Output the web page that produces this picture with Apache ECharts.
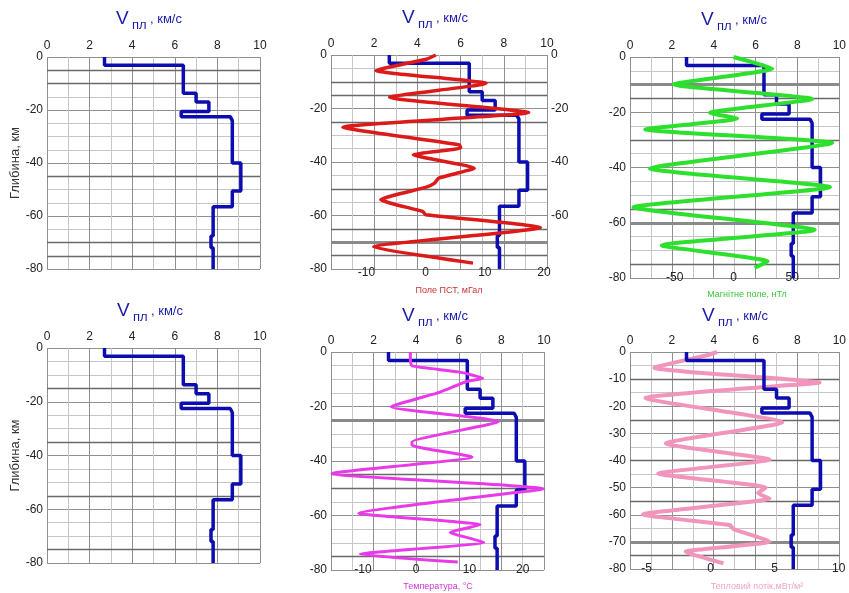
<!DOCTYPE html>
<html><head><meta charset="utf-8">
<script src="https://cdn.jsdelivr.net/npm/echarts@6/dist/echarts.min.js"></script>
<style>html,body{margin:0;padding:0;background:#fff}#c{width:849px;height:593px}</style>
</head><body><div id="c"></div>
<script>
// ---- data ----
const velocityDepth  = [0, -3.1, -3.1, -13.7, -13.7, -17, -17, -20.6, -20.6, -22.5, -22.5, -24, -40, -40, -50.6, -50.6, -56.5, -56.5, -67.5, -67.5, -72, -72, -80];
const velocityValues = [2.7, 2.7, 6.4, 6.4, 7.0, 7.0, 7.6, 7.6, 6.3, 6.3, 8.6, 8.7, 8.7, 9.1, 9.1, 8.7, 8.7, 7.8, 7.8, 7.7, 7.7, 7.8, 7.8];

const gravityDepth  = [0, -1.6, -5.8, -10.6, -15.8, -21.5, -27, -33.6, -34.8, -37.3, -42.3, -46, -47.9, -49.4, -54.1, -58.5, -59.7, -64.5, -71.8, -77.8];
const gravityValues = [1.7, 0.1, -8.4, 10.2, -6.1, 17.4, -14.0, 5.7, 5.9, -2.1, 8.2, 2.2, 1.5, 0.1, -7.6, -0.5, 0.0, 19.4, -8.8, 8.0];

const magneticDepth  = [0, -4.2, -9.9, -15.2, -20.2, -22.3, -26.2, -31.1, -40.4, -47.1, -54.4, -62.6, -68.2, -74.0, -76.3];
const magneticValues = [0, 33, -51, 67, -20, 3, -75, 84, -71, 82, -85, 69, -61, 29, 18];

const temperatureDepth  = [0, -3, -5.1, -7.3, -9.6, -11, -14.7, -20.1, -25.5, -33, -34.2, -38.5, -44.6, -50.2, -53.5, -59.2, -63.4, -66.2, -69.8, -74.2, -77.1];
const temperatureValues = [-1.1, -1.1, -0.8, 7.9, 12.5, 9.2, 4.5, -4.7, 15.5, -0.8, -0.8, 10.5, -15.8, 23.9, 10.4, -10.8, 12.0, 6.4, 12.7, -10.5, 7.8];

const heatFlowDepth  = [0, -1.2, -5.8, -11.3, -12.5, -17, -25.9, -33.7, -39.7, -44.8, -50, -52, -54, -59.9, -63.8, -65.3, -69.9, -73.6, -74.8, -77.9];
const heatFlowValues = [0.5, -0.3, -4.4, 8.5, 5.3, -5.1, 5.6, -3.5, 4.6, -4.1, 4.3, 3.7, 4.6, -5.3, 1.5, 1.8, 4.6, -1.95, -1.3, 1.0];

const velocityTicks = [0, 2, 4, 6, 8, 10];
const gravityTicks = [-10, 0, 10, 20];
const magneticTicks = [-50, 0, 50];
const temperatureTicks = [-10, 0, 10, 20];
const heatFlowTicks = [-5, 0, 5, 10];
const rightDepthTicks = [0, -20, -40, -60];

// layer boundary lines (depth, km) per panel
const boundaries1 = [-5, -10, -45, -70, -75];
const boundaries2 = [-10, -15, -25, -50, -65, -75];
const thick2 = [-70];
const boundaries3 = [-15, -30, -55, -75];
const thick3 = [-10, -60];
const boundaries4 = [-15, -35, -55, -75];
const boundaries5 = [-45, -50, -75];
const thick5 = [-25];
const boundaries6 = [-10, -25, -40, -55, -75];
const thick6 = [-70];

const titleText = 'V';
const titleSub = 'пл';
const titleUnit = ', км/с';
const depthName = 'Глибина, км';
const gravityName = 'Поле ПСТ, мГал';
const magneticName = 'Магнітне поле, нТл';
const temperatureName = 'Температура, °С';
const heatFlowName = 'Тепловий потік,мВт/м²';

// ---- build ----
const zip = (xs, ys) => xs.map((x, i) => [x, ys[i]]);
const FONT = 'Liberation Sans, Arial, sans-serif';
const grids = [
  {left: 47, top: 57, width: 213, height: 212},
  {left: 331, top: 55, width: 216, height: 214},
  {left: 630, top: 57, width: 215, height: 221},
  {left: 47, top: 348, width: 213, height: 215},
  {left: 331, top: 352, width: 213, height: 218},
  {left: 630, top: 352, width: 215, height: 217}
];
const majorLine = {show: true, lineStyle: {color: '#8f8f8f', width: 1}};
const minorLine = {show: true, lineStyle: {color: '#c6c6c6', width: 1}};
const lbl = {color: '#222', fontSize: 12, fontFamily: FONT};

const xAxes = [], yAxes = [];
grids.forEach((g, i) => {
  xAxes.push({type: 'value', gridIndex: i, position: 'top', min: 0, max: 10, interval: 2,
    axisLine: {show: false}, axisTick: {show: false},
    axisLabel: Object.assign({margin: 5, customValues: velocityTicks}, lbl),
    splitLine: majorLine, minorTick: {show: false, splitNumber: 2}, minorSplitLine: minorLine});
  const step = i === 5 ? 10 : 20;
  yAxes.push({type: 'value', gridIndex: i, position: 'left', min: -80, max: 0, interval: step,
    name: (i === 0 || i === 3) ? depthName : '', nameLocation: 'middle', nameRotate: 90, nameGap: 23,
    nameTextStyle: {color: '#333', fontSize: 13, fontFamily: FONT},
    axisLine: {show: false}, axisTick: {show: false},
    axisLabel: Object.assign({margin: 4}, lbl),
    splitLine: majorLine, minorTick: {show: false, splitNumber: step === 20 ? 4 : 2}, minorSplitLine: minorLine});
});
function secX(grid, min, max, ticks, margin) {
  return {type: 'value', gridIndex: grid, position: 'bottom', min: min, max: max,
    axisLine: {show: false}, axisTick: {show: false}, splitLine: {show: false},
    axisLabel: Object.assign({margin: margin, customValues: ticks}, lbl)};
}
xAxes.push(secX(1, -16, 20.5, gravityTicks, -2));        // 6
xAxes.push(secX(2, -88, 90, magneticTicks, -6));          // 7
xAxes.push(secX(4, -16, 24, temperatureTicks, -6));       // 8
xAxes.push(secX(5, -6.3, 10.05, heatFlowTicks, -6));      // 9
yAxes.push({type: 'value', gridIndex: 1, position: 'right', min: -80, max: 0,
  axisLine: {show: false}, axisTick: {show: false}, splitLine: {show: false},
  axisLabel: Object.assign({margin: 4, customValues: rightDepthTicks}, lbl)}); // 6

const allBounds = [[boundaries1, []], [boundaries2, thick2], [boundaries3, thick3],
                   [boundaries4, []], [boundaries5, thick5], [boundaries6, thick6]];
const series = [];
grids.forEach((g, i) => {
  const mlData = allBounds[i][0].map(d => ({yAxis: d, lineStyle: {color: '#6a6a6a', width: 1.3}}))
    .concat(allBounds[i][1].map(d => ({yAxis: d, lineStyle: {color: '#8a8a8a', width: 3}})));
  series.push({type: 'line', xAxisIndex: i, yAxisIndex: i, data: zip(velocityValues, velocityDepth),
    symbol: 'none', z: 3, lineStyle: {color: '#0c0cb0', width: 3.5}, animation: false,
    markLine: {silent: true, z: 1, symbol: ['none', 'none'], label: {show: false}, animation: false,
      lineStyle: {type: 'solid'}, data: mlData}});
});
function curve(xi, yi, xs, ys, color, width, z) {
  return {type: 'line', xAxisIndex: xi, yAxisIndex: yi, data: zip(xs, ys), symbol: 'none',
    smooth: 0.15, z: z, animation: false, lineStyle: {color: color, width: width}};
}
series.push(curve(6, 1, gravityValues, gravityDepth, '#dc1a1a', 3.5, 4));
series.push(curve(7, 2, magneticValues, magneticDepth, '#2ee02e', 4, 4));
series.push(curve(8, 4, temperatureValues, temperatureDepth, '#e83ae8', 3, 4));
series.push(curve(9, 5, heatFlowValues, heatFlowDepth, '#f295bc', 4, 2));

function title(x, y) {
  const c = '#1c1caa';
  return [
    {type: 'text', x: x, y: y, style: {text: titleText, fill: c, font: '19px ' + FONT}},
    {type: 'text', x: x + 16, y: y + 10, style: {text: titleSub, fill: c, font: '13px ' + FONT}},
    {type: 'text', x: x + 34, y: y + 4, style: {text: titleUnit, fill: c, font: '13px ' + FONT}}
  ];
}
function note(cx, y, text, color) {
  return {type: 'text', x: cx, y: y, style: {text: text, fill: color, font: '9px ' + FONT, textAlign: 'center', textVerticalAlign: 'middle'}};
}
const graphic = [].concat(
  title(116, 9), title(402, 8), title(701, 10),
  title(117, 301), title(402, 306), title(702, 306),
  [note(449, 291, gravityName, '#c83232'), note(747, 295, magneticName, '#36c836'),
   note(438, 587, temperatureName, '#d236d2'), note(757, 587, heatFlowName, '#f0a4c4')]
);

const chart = echarts.init(document.getElementById('c'), null, {renderer: 'canvas'});
chart.setOption({animation: false, backgroundColor: '#fff', grid: grids, xAxis: xAxes, yAxis: yAxes, series: series, graphic: graphic});
</script></body></html>
